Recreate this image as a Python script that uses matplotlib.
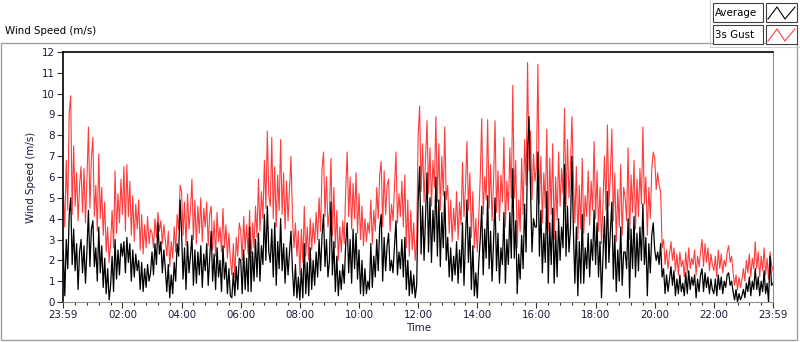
import matplotlib

matplotlib.use("Agg")
import matplotlib.pyplot as plt  # noqa: E402
import numpy as np  # noqa: E402
from matplotlib.lines import Line2D  # noqa: E402
from matplotlib.patches import Rectangle  # noqa: E402

# 3-minute samples, one row per hour (00:00 .. 23:57) plus end point.
gust = [
    5.3, 3.6, 6.8, 4.4, 9.1, 9.9, 4.2, 7.5, 4.6, 6.2, 3.9, 5.6, 6.5, 4.3, 6.4, 3.8, 5.9, 8.4, 4.5, 6.9,
    7.9, 4.1, 5.6, 3.4, 7.1, 4.0, 5.5, 3.2, 4.8, 2.4, 3.6, 1.9, 2.8, 4.4, 2.6, 6.3, 3.3, 5.2, 3.8, 5.9,
    4.2, 6.5, 3.4, 6.6, 4.1, 5.8, 3.2, 5.1, 2.9, 4.7, 3.5, 4.9, 2.5, 4.2, 2.3, 3.7, 2.6, 4.1, 2.8, 3.5,
    3.3, 2.6, 4.0, 3.1, 4.3, 3.4, 3.9, 2.8, 3.7, 3.0, 2.2, 3.4, 1.7, 2.9, 2.1, 3.6, 2.4, 4.2, 3.5, 5.6,
    5.3, 3.2, 4.8, 2.7, 5.2, 3.5, 4.4, 5.9, 3.0, 4.9, 2.8, 4.6, 3.3, 5.0, 2.9, 4.5, 3.6, 4.8, 2.7, 4.2,
    4.6, 2.5, 3.9, 2.2, 4.3, 2.9, 3.6, 2.4, 4.5, 2.6, 3.7, 2.1, 3.3, 2.0, 1.3, 2.8, 1.2, 3.1, 2.2, 3.8,
    3.4, 2.0, 4.1, 2.5, 3.7, 2.3, 4.4, 1.9, 3.8, 2.6, 4.6, 3.1, 5.9, 3.4, 5.3, 4.0, 6.8, 4.5, 8.2, 5.1,
    4.6, 7.9, 4.0, 6.5, 3.6, 6.1, 4.4, 7.8, 4.2, 6.2, 3.5, 5.8, 3.9, 5.4, 7.0, 4.0, 2.6, 3.8, 2.2, 3.4,
    1.3, 3.5, 1.9, 4.6, 2.2, 3.6, 2.0, 4.0, 2.5, 3.8, 2.8, 4.3, 3.0, 5.0, 3.4, 6.4, 7.2, 4.1, 6.0, 3.6,
    4.3, 6.9, 3.2, 5.5, 2.6, 4.4, 2.0, 3.6, 2.4, 3.9, 2.8, 5.4, 7.2, 4.1, 6.0, 3.5, 5.7, 4.0, 6.2, 3.3,
    5.2, 3.0, 4.6, 2.7, 4.0, 2.9, 3.8, 3.3, 4.9, 2.8, 4.4, 3.4, 5.5, 4.0, 6.1, 6.75, 3.6, 6.3, 4.2, 5.6,
    5.9, 3.4, 4.7, 3.9, 5.5, 7.2, 3.8, 5.2, 4.1, 5.8, 3.6, 6.1, 2.6, 4.9, 2.2, 4.4, 2.5, 3.8, 2.0, 3.0,
    8.0, 9.4, 5.3, 7.6, 4.8, 6.9, 8.7, 5.2, 7.4, 4.6, 6.8, 5.5, 8.9, 4.8, 7.6, 4.4, 7.0, 5.1, 8.4, 4.9,
    5.6, 3.3, 4.9, 2.9, 4.5, 3.4, 5.3, 3.0, 4.8, 3.7, 6.7, 4.1, 5.5, 7.7, 4.4, 6.2, 3.1, 5.3, 2.6, 4.0,
    2.4, 4.1, 6.0, 8.8, 4.2, 6.0, 4.9, 8.75, 4.5, 6.6, 3.9, 5.8, 8.7, 4.3, 6.3, 3.9, 6.1, 4.8, 7.9, 3.6,
    5.8, 4.4, 7.4, 5.0, 10.4, 5.0, 6.8, 2.6, 4.9, 3.4, 6.9, 4.2, 7.8, 5.6, 11.5, 6.3, 8.2, 4.9, 7.1, 5.8,
    6.5, 11.4, 4.7, 7.0, 3.8, 6.2, 4.5, 8.3, 3.4, 6.9, 4.2, 7.6, 3.0, 6.0, 3.9, 7.2, 4.6, 6.4, 5.2, 9.3,
    4.6, 7.8, 5.0, 6.4, 8.9, 6.0, 3.8, 6.5, 3.0, 5.6, 3.5, 6.9, 3.3, 5.1, 4.1, 6.3, 3.7, 5.8, 4.4, 7.7,
    4.0, 6.3, 3.4, 5.5, 2.8, 4.7, 7.0, 4.4, 8.5, 4.6, 6.1, 8.3, 3.9, 6.2, 2.9, 5.4, 3.6, 6.6, 3.2, 5.5,
    5.0, 3.9, 7.4, 3.0, 6.1, 4.3, 6.8, 3.5, 5.9, 4.1, 6.4, 4.7, 8.4, 4.7, 6.0, 3.2, 5.5, 4.0, 6.4, 7.2,
    6.9, 5.4, 6.2, 5.6, 5.3, 2.6, 3.0, 1.8, 2.5, 1.6, 2.3, 2.9, 2.0, 2.6, 1.5, 2.3, 1.3, 2.4, 1.7, 2.0,
    1.2, 2.4, 1.4, 2.6, 1.6, 2.1, 1.8, 2.5, 1.3, 2.2, 1.7, 2.4, 3.0, 1.7, 2.8, 1.9, 2.6, 1.5, 2.3, 1.8,
    1.5, 2.2, 1.2, 2.5, 1.6, 2.3, 1.4, 2.0, 1.7, 2.4, 2.7, 1.9, 2.2, 1.4, 0.8, 1.3, 0.6, 1.2, 0.7, 1.1,
    1.6, 1.0, 2.0, 1.4, 2.3, 1.2, 2.1, 1.6, 2.9, 1.6, 2.4, 1.2, 2.2, 1.5, 2.6, 1.3, 2.1, 1.1, 2.4, 1.8,
    1.5,
]
average = [
    2.5, 0.3, 3.0, 1.6, 4.2, 5.0, 1.8, 3.5, 1.5, 2.8, 0.6, 2.4, 3.0, 1.4, 2.7, 0.9, 2.5, 4.4, 1.7, 3.5,
    3.9, 1.7, 2.6, 1.0, 3.6, 1.4, 2.7, 0.7, 2.1, 0.4, 1.6, 0.1, 0.8, 2.2, 0.5, 3.0, 1.1, 2.5, 1.3, 2.8,
    2.2, 2.9, 1.4, 3.1, 1.9, 2.8, 1.0, 2.5, 1.2, 2.3, 1.5, 2.0, 0.6, 1.9, 0.5, 1.6, 0.7, 1.8, 1.0, 1.4,
    2.4, 1.3, 2.8, 1.8, 3.8, 2.3, 2.9, 1.4, 2.5, 1.6, 0.5, 1.8, 0.2, 1.3, 0.4, 1.9, 1.0, 2.8, 2.2, 4.9,
    3.3, 1.1, 2.6, 0.6, 2.9, 1.4, 2.2, 3.2, 0.8, 2.5, 0.9, 2.4, 1.3, 2.7, 0.7, 2.3, 1.5, 2.8, 0.8, 2.1,
    3.4, 1.0, 2.3, 0.6, 2.6, 1.2, 2.0, 0.5, 2.7, 1.1, 1.9, 0.4, 1.6, 0.3, 0.2, 1.4, 0.3, 1.7, 0.6, 2.1,
    2.0, 0.4, 2.5, 0.6, 2.1, 0.5, 3.6, 0.5, 2.4, 1.0, 3.0, 1.2, 3.3, 1.0, 2.7, 1.8, 4.2, 2.0, 4.6, 2.4,
    1.9, 3.5, 1.2, 3.8, 0.8, 2.9, 1.6, 4.0, 1.5, 2.8, 0.9, 2.6, 1.3, 2.4, 3.4, 1.5, 0.3, 1.8, 0.2, 1.2,
    0.1, 1.6, 0.2, 2.8, 0.4, 1.9, 0.3, 2.6, 0.6, 2.0, 0.8, 2.4, 1.2, 3.0, 1.5, 3.2, 4.2, 1.7, 3.0, 1.2,
    2.0, 4.8, 1.3, 2.9, 0.5, 2.2, 0.3, 1.5, 0.6, 1.8, 0.9, 2.8, 3.8, 1.4, 3.0, 0.9, 3.5, 1.6, 3.3, 1.1,
    2.5, 0.4, 2.0, 0.3, 1.6, 0.4, 1.0, 0.6, 2.8, 0.7, 2.2, 1.2, 3.0, 1.5, 3.6, 4.2, 1.0, 3.1, 1.5, 2.7,
    3.3, 1.5, 2.0, 1.4, 2.7, 3.9, 1.3, 2.4, 1.6, 3.0, 1.2, 3.1, 0.6, 2.0, 0.3, 1.5, 0.4, 1.3, 0.2, 0.8,
    4.8, 6.5, 2.3, 4.6, 2.0, 4.1, 6.2, 2.4, 5.0, 1.9, 4.4, 2.9, 6.0, 2.2, 4.9, 1.7, 4.3, 2.6, 5.3, 2.0,
    3.1, 1.2, 2.6, 1.0, 2.2, 1.3, 2.9, 0.9, 2.5, 1.4, 3.8, 0.8, 3.0, 4.9, 1.9, 3.6, 0.6, 2.7, 0.3, 1.4,
    0.2, 1.9, 3.0, 4.6, 1.3, 3.5, 2.1, 5.1, 1.6, 3.4, 1.0, 2.9, 5.0, 1.5, 3.3, 0.9, 2.6, 1.8, 4.3, 0.9,
    3.0, 1.8, 4.3, 2.1, 6.4, 2.1, 3.9, 0.4, 2.3, 1.1, 3.2, 1.6, 4.7, 2.4, 7.3, 8.9, 5.4, 2.4, 4.0, 3.6,
    3.6, 7.2, 2.2, 4.4, 1.4, 3.3, 1.9, 5.3, 0.9, 3.8, 1.8, 4.5, 0.9, 3.4, 1.2, 4.0, 2.0, 3.6, 2.6, 6.6,
    2.2, 4.6, 2.4, 3.5, 7.0, 3.4, 0.9, 3.6, 0.3, 2.9, 0.9, 4.2, 0.9, 2.6, 1.6, 3.3, 1.2, 3.0, 2.0, 4.4,
    1.8, 3.8, 1.2, 2.9, 0.2, 2.1, 4.1, 1.6, 5.3, 1.9, 3.4, 4.8, 1.1, 3.2, 0.5, 2.5, 1.0, 3.6, 0.8, 2.4,
    2.4, 1.6, 4.0, 0.2, 3.5, 1.6, 4.1, 1.2, 3.3, 1.5, 3.6, 2.0, 4.7, 1.8, 3.1, 0.3, 2.8, 1.4, 3.2, 3.8,
    2.5, 2.0, 2.4, 1.8, 2.8, 1.2, 1.6, 0.4, 1.3, 0.5, 1.1, 1.7, 0.8, 1.5, 0.3, 1.1, 0.4, 1.3, 0.5, 0.9,
    0.3, 1.4, 0.4, 1.5, 0.6, 1.2, 0.8, 1.3, 0.2, 1.1, 0.5, 1.3, 1.6, 0.5, 1.4, 0.7, 1.2, 0.4, 1.1, 0.6,
    0.4, 1.1, 0.3, 1.3, 0.6, 1.2, 0.4, 1.0, 0.7, 1.3, 1.4, 0.8, 1.0, 0.5, 0.1, 0.6, 0.0, 0.4, 0.1, 0.3,
    0.6, 0.2, 0.9, 0.5, 1.2, 0.3, 1.0, 0.6, 1.6, 0.6, 1.2, 0.3, 1.0, 0.5, 1.5, 0.4, 0.9, 0.0, 2.2, 0.8,
    0.9,
]
minutes = np.arange(len(gust)) * 3
x_ticks = [0, 2, 4, 6, 8, 10, 12, 14, 16, 18, 20, 22, 24]
x_labels = ["23:59", "02:00", "04:00", "06:00", "08:00", "10:00", "12:00",
            "14:00", "16:00", "18:00", "20:00", "22:00", "23:59"]
y_ticks = list(range(0, 13))

INK = "#1a1a3a"
FRAME = "#a0a0a0"
RED = "#ff3b3b"
FONT = "DejaVu Sans"
FS = 7.4

plt.rcParams["font.family"] = FONT

fig = plt.figure(figsize=(8.0, 3.42), dpi=100)
fig.patch.set_facecolor("white")

W, H = 800.0, 342.0


def fx(px):
    return px / W


def fy(py):
    return 1 - py / H


# outer panel frame
fig.add_artist(Rectangle((fx(1), fy(340)), fx(796), (340 - 43) / H, transform=fig.transFigure,
                         fill=False, edgecolor=FRAME, linewidth=1.0))
fig.add_artist(Line2D([fx(710), fx(710)], [fy(0), fy(47)], transform=fig.transFigure,
                      color="#d0d0d0", linewidth=0.8))
fig.add_artist(Line2D([fx(710), fx(799)], [fy(47), fy(47)], transform=fig.transFigure,
                      color="#d0d0d0", linewidth=0.8))
fig.text(fx(5), fy(31), "Wind Speed (m/s)", fontsize=FS, color="black", va="center", ha="left")

# legend boxes
for row, (name, color) in enumerate([("Average", "black"), ("3s Gust", RED)]):
    top = 3 + row * 22
    fig.add_artist(Rectangle((fx(713), fy(top + 19)), fx(50), 19 / H, transform=fig.transFigure,
                             facecolor="white", edgecolor="#404040", linewidth=0.8))
    fig.text(fx(715), fy(top + 10), name, fontsize=FS, color="black", va="center", ha="left")
    fig.add_artist(Rectangle((fx(766), fy(top + 19)), fx(31), 19 / H, transform=fig.transFigure,
                             facecolor="white", edgecolor="#404040", linewidth=0.8))
    fig.add_artist(Line2D([fx(768), fx(777), fx(785), fx(795)],
                          [fy(top + 16), fy(top + 4), fy(top + 16), fy(top + 4)],
                          transform=fig.transFigure, color=color, linewidth=0.8))

ax = fig.add_axes([63.3 / W, (H - 302) / H, (773 - 63.3) / W, (302 - 52) / H])
ax.plot(minutes / 60, gust, color=RED, linewidth=0.8, zorder=2)
ax.plot(minutes / 60, average, color="black", linewidth=0.9, zorder=3)

ax.set_xlim(0, 24)
ax.set_ylim(0, 12)
ax.set_xticks(x_ticks)
ax.set_xticklabels(x_labels)
ax.set_xticks(np.arange(0, 24.01, 0.4), minor=True)
ax.set_yticks(y_ticks)
ax.tick_params(axis="both", which="major", labelsize=FS, labelcolor=INK, color="#303030",
               length=4, width=0.8, pad=2)
ax.tick_params(axis="x", which="minor", length=2.5, width=0.8, color="#303030")
ax.set_xlabel("Time", fontsize=FS, color=INK, labelpad=2)
ax.set_ylabel("Wind Speed (m/s)", fontsize=FS, color=INK, labelpad=4)
ax.spines["top"].set_color("black")
ax.spines["left"].set_color("black")
ax.spines["top"].set_linewidth(1.2)
ax.spines["left"].set_linewidth(1.2)
ax.spines["right"].set_color("#909090")
ax.spines["bottom"].set_color("#909090")

fig.savefig("out.png", dpi=100, facecolor="white")
